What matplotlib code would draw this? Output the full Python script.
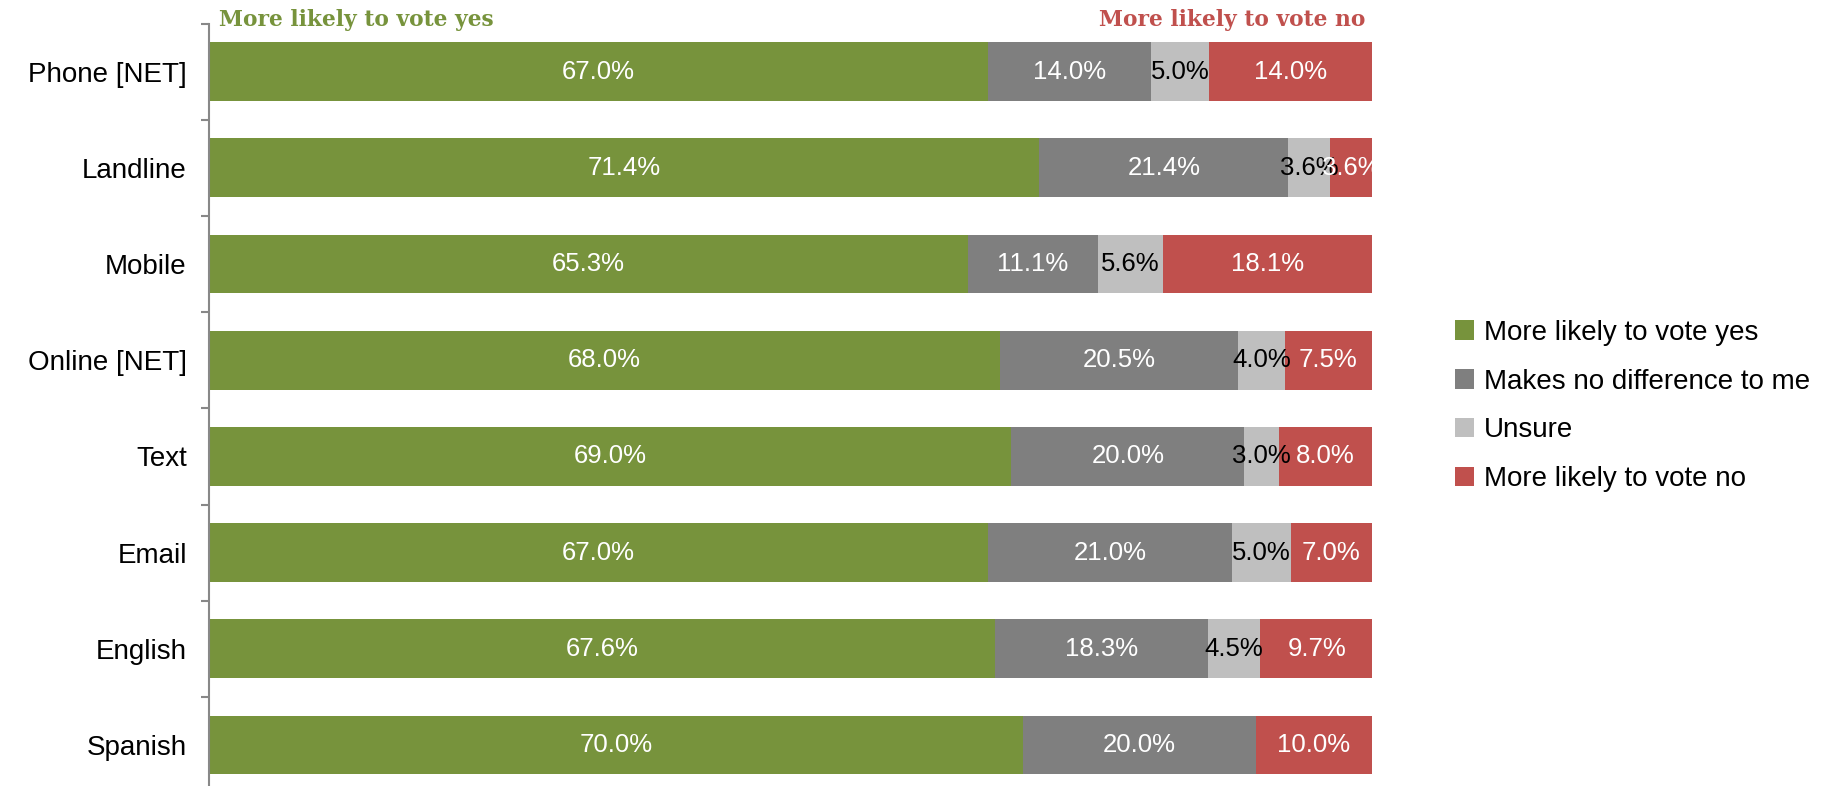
import matplotlib
matplotlib.use("Agg")
import matplotlib.pyplot as plt
import numpy as np

categories = ["Phone [NET]", "Landline", "Mobile", "Online [NET]", "Text", "Email", "English", "Spanish"]
yes_vals = [67.0, 71.4, 65.3, 68.0, 69.0, 67.0, 67.6, 70.0]
nodiff_vals = [14.0, 21.4, 11.1, 20.5, 20.0, 21.0, 18.3, 20.0]
unsure_vals = [5.0, 3.6, 5.6, 4.0, 3.0, 5.0, 4.5, 0.0]
no_vals = [14.0, 3.6, 18.1, 7.5, 8.0, 7.0, 9.7, 10.0]
series_names = ["More likely to vote yes", "Makes no difference to me", "Unsure", "More likely to vote no"]
colors = ["#77933C", "#7F7F7F", "#BFBFBF", "#C0504D"]
label_colors = ["white", "white", "black", "white"]

plt.rcParams['font.family'] = ['Liberation Sans', 'DejaVu Sans']

fig = plt.figure(figsize=(18.39, 7.86), dpi=100)
top_px = 23.5
height_px = 96.2 * 8
ax = fig.add_axes([209/1839, 1 - (top_px + height_px)/786, (1372-209)/1839, height_px/786])

y = np.arange(len(categories))
series = [yes_vals, nodiff_vals, unsure_vals, no_vals]
left = np.zeros(len(categories))
handles = []
for vals, name, col, lc in zip(series, series_names, colors, label_colors):
    vals = np.array(vals)
    h = ax.barh(y, vals, left=left, height=0.61, color=col, label=name, edgecolor='none')
    handles.append(h)
    for yi, (l, v) in enumerate(zip(left, vals)):
        if v > 0:
            ax.text(l + v/2, yi, f"{v:.1f}%", ha='center', va='center', color=lc, fontsize=18.5)
    left = left + vals

ax.set_ylim(len(categories) - 0.5, -0.5)
ax.set_xlim(0, 100)
ax.set_yticks(y)
ax.set_yticklabels(categories, fontsize=20)
ax.set_yticks(np.arange(-0.5, len(categories), 1.0), minor=True)
ax.tick_params(axis='y', which='major', length=0, pad=16)
ax.tick_params(axis='y', which='minor', length=6, color='#888888', width=1.5)
ax.set_xticks([])
for s in ['top', 'right', 'bottom']:
    ax.spines[s].set_visible(False)
ax.spines['left'].set_color('#888888')
ax.spines['left'].set_linewidth(1.5)

fig.text(219/1839, 1 - 20/786, "More likely to vote yes", color="#77933C", fontsize=15.7,
         fontweight='bold', family='DejaVu Serif', ha='left', va='center')
fig.text(1365/1839, 1 - 20/786, "More likely to vote no", color="#C0504D", fontsize=15.7,
         fontweight='bold', family='DejaVu Serif', ha='right', va='center')

leg = fig.legend(handles=handles, labels=series_names, loc='center left',
                 bbox_to_anchor=(1430/1839, 1 - 406/786), frameon=False, fontsize=20,
                 handlelength=0.7, handleheight=0.7, handletextpad=0.35, labelspacing=0.82)

fig.savefig("out.png", dpi=100)
